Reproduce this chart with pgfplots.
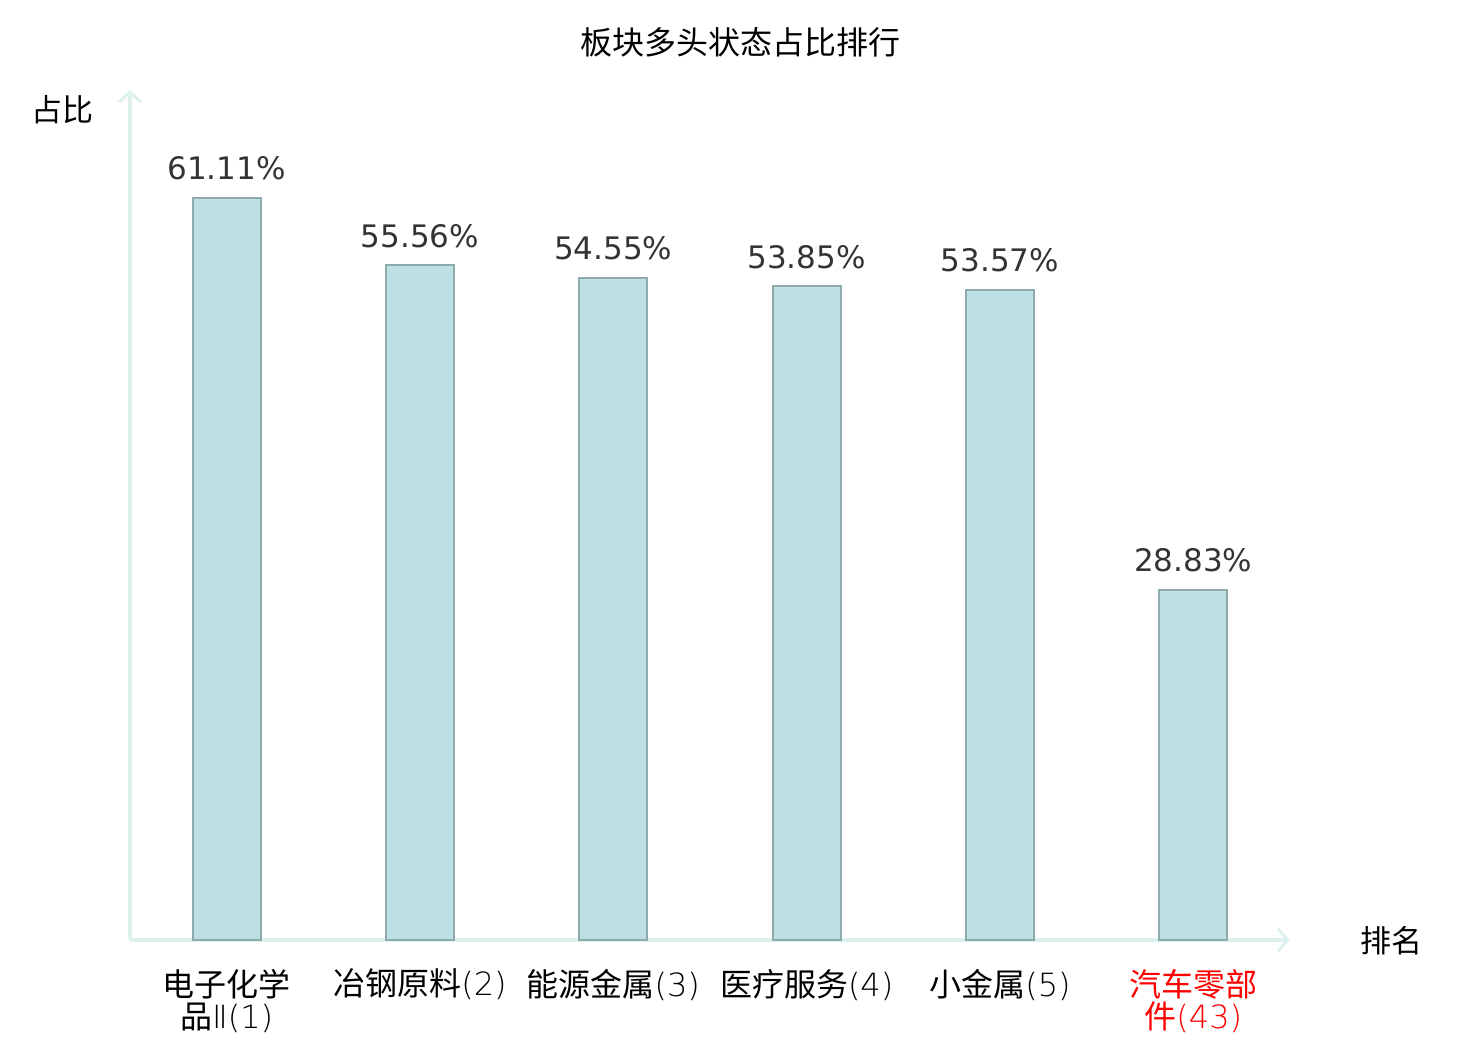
\documentclass[border=0pt]{standalone}
\usepackage{pgfplots}
\pgfplotsset{compat=1.18}
\usepackage{fontspec}
\setmainfont{DejaVu Sans}
\newfontfamily\cjk{Noto Sans CJK SC}
\newfontfamily\djl{DejaVu Sans ExtraLight}
\usetikzlibrary{arrows.meta}
\definecolor{barfill}{HTML}{BCE0E3}
\definecolor{barline}{HTML}{8FAAAB}
\definecolor{axcol}{HTML}{DDF1EF}
\definecolor{valcol}{HTML}{333333}
\begin{document}
\begin{tikzpicture}
\path[use as bounding box] (0,0) rectangle (740pt,520pt);
\begin{axis}[
  at={(65pt,50pt)}, anchor=south west,
  scale only axis, width=580pt, height=425pt,
  xmin=-0.5, xmax=5.5, ymin=0, ymax=70,
  axis lines=left,
  axis line style={draw=axcol, line width=2pt},
  every outer x axis line/.append style={-{Straight Barb[length=5pt,width=11pt,line width=1.5pt]}},
  every outer y axis line/.append style={-{Straight Barb[length=5pt,width=11pt,line width=1.5pt]}},
  ytick=\empty,
  xtick={0,1,2,3,4,5},
  xticklabels={{电子化学\\品{\djl Ⅱ(1)}},{冶钢原料{\djl(2)}},{能源金属{\djl(3)}},{医疗服务{\djl(4)}},{小金属{\djl(5)}},{\textcolor{red}{汽车零部}\\\textcolor{red}{件{\djl(43)}}}},
  xticklabel style={align=center, anchor=north, yshift=-11pt, font=\cjk\fontsize{16}{16}\selectfont, text=black},
  major tick length=0pt,
  ybar, bar width=34pt,
  /pgf/number format/assume math mode=true,
  nodes near coords={\pgfmathprintnumber[fixed,precision=2,fixed zerofill,assume math mode=true]{\pgfplotspointmeta}\%},
  nodes near coords style={anchor=south, yshift=5pt, font=\fontsize{15.5}{16}\selectfont, text=valcol},
  clip=false,
]
\addplot[fill=barfill, draw=barline, line width=1pt] coordinates {
(0,61.11) (1,55.56) (2,54.55) (3,53.85) (4,53.57) (5,28.83)
};
\end{axis}
\node[font=\cjk\fontsize{16}{16}\selectfont] at (370pt,499pt) {板块多头状态占比排行};
\node[font=\cjk\fontsize{15.5}{16}\selectfont] at (31.5pt,465pt) {占比};
\node[font=\cjk\fontsize{15.5}{16}\selectfont] at (695.5pt,49.5pt) {排名};
\end{tikzpicture}
\end{document}
